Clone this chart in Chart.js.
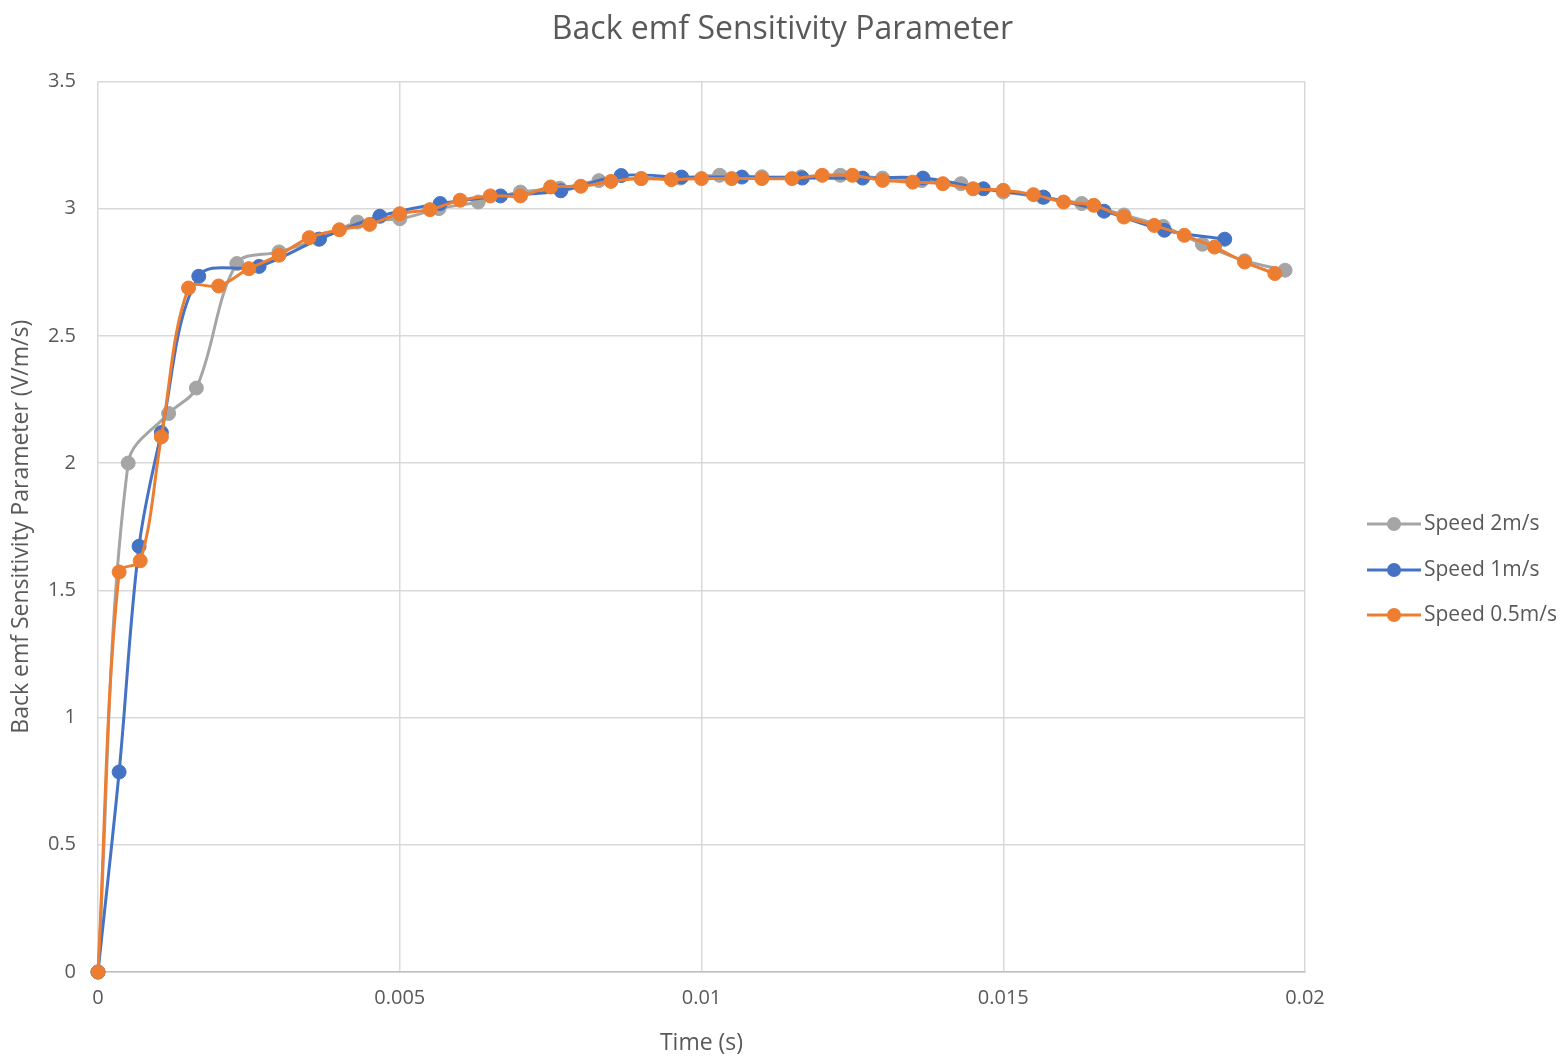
<!DOCTYPE html>
<html>
<head>
<meta charset="utf-8">
<script src="https://cdn.jsdelivr.net/npm/chart.js@4.4.1/dist/chart.umd.min.js"></script>
<style>
    html, body { margin: 0; padding: 0; background: #fff; }
    #wrap { width: 1565px; height: 1059px; position: relative; }
</style>
</head>
<body>
<div id="wrap"><canvas id="chart"></canvas></div>
<script>
// Speed 2m/s
const timeFast = [0, 0.0005, 0.00117, 0.00163, 0.0023, 0.003, 0.00365, 0.0043, 0.005, 0.00565, 0.0063, 0.007, 0.00765, 0.0083, 0.009, 0.00965, 0.0103, 0.011, 0.01165, 0.0123, 0.013, 0.01365, 0.0143, 0.015, 0.01565, 0.0163, 0.017, 0.01765, 0.0183, 0.019, 0.01967];
const emfFast = [0, 2.0, 2.195, 2.295, 2.784, 2.83, 2.88, 2.947, 2.96, 3.0, 3.026, 3.065, 3.08, 3.11, 3.118, 3.12, 3.131, 3.125, 3.125, 3.131, 3.12, 3.11, 3.098, 3.065, 3.045, 3.02, 2.975, 2.93, 2.86, 2.795, 2.758];

// Speed 1m/s
const timeMid = [0, 0.00035, 0.00068, 0.00105, 0.00167, 0.00267, 0.00367, 0.00467, 0.00567, 0.00667, 0.00767, 0.00867, 0.00967, 0.01067, 0.01167, 0.01267, 0.01367, 0.01467, 0.01567, 0.01667, 0.01767, 0.01867];
const emfMid = [0, 0.786, 1.673, 2.12, 2.734, 2.773, 2.88, 2.97, 3.02, 3.05, 3.07, 3.13, 3.124, 3.124, 3.12, 3.12, 3.12, 3.078, 3.045, 2.99, 2.915, 2.88];

// Speed 0.5m/s
const timeSlow = [0, 0.00035, 0.0007, 0.00105, 0.0015, 0.002, 0.0025, 0.003, 0.0035, 0.004, 0.0045, 0.005, 0.0055, 0.006, 0.0065, 0.007, 0.0075, 0.008, 0.0085, 0.009, 0.0095, 0.01, 0.0105, 0.011, 0.0115, 0.012, 0.0125, 0.013, 0.0135, 0.014, 0.0145, 0.015, 0.0155, 0.016, 0.0165, 0.017, 0.0175, 0.018, 0.0185, 0.019, 0.0195];
const emfSlow = [0, 1.572, 1.616, 2.103, 2.688, 2.696, 2.764, 2.817, 2.886, 2.917, 2.938, 2.98, 2.996, 3.033, 3.05, 3.05, 3.085, 3.088, 3.107, 3.118, 3.114, 3.118, 3.118, 3.118, 3.118, 3.131, 3.131, 3.111, 3.104, 3.098, 3.078, 3.072, 3.055, 3.026, 3.013, 2.967, 2.934, 2.895, 2.849, 2.79, 2.745];

const xTicks = [0, 0.005, 0.01, 0.015, 0.02];
const xTickLabels = ['0', '0.005', '0.01', '0.015', '0.02'];
const yTicks = [0, 0.5, 1, 1.5, 2, 2.5, 3, 3.5];
const yTickLabels = ['0', '0.5', '1', '1.5', '2', '2.5', '3', '3.5'];

const seriesNames = ['Speed 2m/s', 'Speed 1m/s', 'Speed 0.5m/s'];
const seriesColors = ['#A5A5A5', '#4472C4', '#ED7D31'];

const FONT = "'Open Sans', 'Noto Sans', sans-serif";
const TEXT = '#595959';

const toPoints = (xs, ys) => xs.map((x, i) => ({ x: x, y: ys[i] }));

const makeSet = (i, xs, ys) => ({
    label: seriesNames[i],
    data: toPoints(xs, ys),
    borderColor: seriesColors[i],
    backgroundColor: seriesColors[i],
    pointBackgroundColor: seriesColors[i],
    pointBorderColor: seriesColors[i],
    borderWidth: 3,
    pointRadius: 7,
    pointBorderWidth: 1,
    tension: 0.35,
    clip: false,
    order: 3 - i
});

// legend drawn at the right, Excel style: line with a dot, then the name
const sideLegend = {
    id: 'sideLegend',
    afterDraw(chart) {
        const ctx = chart.ctx;
        const rows = [524, 570, 615];
        ctx.save();
        chart.data.datasets.forEach((ds, i) => {
            const y = rows[i];
            ctx.strokeStyle = ds.borderColor;
            ctx.lineWidth = 3;
            ctx.beginPath();
            ctx.moveTo(1367, y);
            ctx.lineTo(1421, y);
            ctx.stroke();
            ctx.fillStyle = ds.borderColor;
            ctx.beginPath();
            ctx.arc(1394, y, 7, 0, Math.PI * 2);
            ctx.fill();
            ctx.fillStyle = TEXT;
            ctx.font = '21px ' + FONT;
            ctx.textBaseline = 'middle';
            ctx.textAlign = 'left';
            ctx.fillText(ds.label, 1424, y);
        });
        ctx.restore();
    }
};

const ctx = document.getElementById('chart');
new Chart(ctx, {
    type: 'line',
    data: {
        datasets: [
            makeSet(0, timeFast, emfFast),
            makeSet(1, timeMid, emfMid),
            makeSet(2, timeSlow, emfSlow)
        ]
    },
    options: {
        responsive: true,
        maintainAspectRatio: false,
        animation: false,
        layout: { padding: 0 },
        plugins: {
            legend: { display: false },
            tooltip: { enabled: false },
            title: {
                display: true,
                text: 'Back emf Sensitivity Parameter',
                color: TEXT,
                font: { family: FONT, size: 32, weight: 'normal' },
                padding: { top: 11, bottom: 32 }
            }
        },
        scales: {
            x: {
                type: 'linear',
                min: 0,
                max: 0.02,
                afterBuildTicks: (s) => { s.ticks = xTicks.map(v => ({ value: v })); },
                afterFit: (s) => { s.height = 87; },
                grid: { color: '#D9D9D9', lineWidth: 1.5, drawTicks: false },
                border: { color: '#BFBFBF', width: 1.5 },
                ticks: {
                    color: TEXT,
                    padding: 14,
                    font: { family: FONT, size: 20 },
                    maxRotation: 0,
                    callback: (val) => xTickLabels[xTicks.indexOf(val)]
                },
                title: {
                    display: true,
                    text: 'Time (s)',
                    color: TEXT,
                    font: { family: FONT, size: 23 },
                    padding: { top: 2, bottom: 2 }
                }
            },
            y: {
                min: 0,
                max: 3.5,
                afterBuildTicks: (s) => { s.ticks = yTicks.map(v => ({ value: v })); },
                afterFit: (s) => { s.width = 98; },
                grid: { color: '#D9D9D9', lineWidth: 1.5, drawTicks: false },
                border: { display: false },
                ticks: {
                    color: TEXT,
                    padding: 22,
                    font: { family: FONT, size: 20 },
                    callback: (val) => yTickLabels[yTicks.indexOf(val)]
                },
                title: {
                    display: true,
                    text: 'Back emf Sensitivity Parameter (V/m/s)',
                    color: TEXT,
                    font: { family: FONT, size: 23 },
                    padding: { top: 8, bottom: 0 }
                }
            },
            // empty right-hand strip that holds the legend
            side: {
                position: 'right',
                display: true,
                afterFit: (s) => { s.width = 260; },
                grid: { display: false },
                border: { display: false },
                ticks: { display: false }
            }
        }
    },
    plugins: [sideLegend]
});
</script>
</body>
</html>
